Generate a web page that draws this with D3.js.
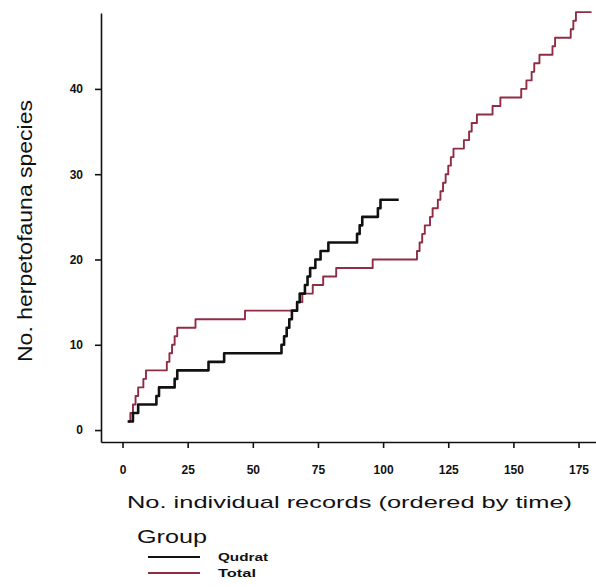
<!DOCTYPE html>
<html>
<head>
<meta charset="utf-8">
<script src="https://cdn.jsdelivr.net/npm/d3@7"></script>
<style>
  html, body { margin: 0; padding: 0; background: #fff; }
  svg { display: block; font-family: 'Liberation Sans', Arial, sans-serif; }
  .axis path, .axis line { stroke: #111; stroke-width: 1.6; }
  .axis text { font-size: 12px; font-weight: bold; fill: #111; }
</style>
</head>
<body>
<div id="chart"></div>
<script>
// record number at which each new species was added, and the running count
const qudratRecords = [2, 4, 6, 13, 14, 20, 21, 33, 39, 61, 62, 63, 64, 65, 67, 68, 70, 71, 72, 74, 76, 79, 90, 91, 92, 98, 99];
const qudratSpecies = [1, 2, 3, 4, 5, 6, 7, 8, 9, 10, 11, 12, 13, 14, 15, 16, 17, 18, 19, 20, 21, 22, 23, 24, 25, 26, 27];
const qudratEnd = 106;

const totalRecords = [2, 3, 4, 5, 6, 8, 9, 17, 18, 19, 20, 21, 28, 47, 67, 69, 73, 77, 82, 96,
  113, 114, 115, 116, 118, 119, 121, 122, 123, 124, 125, 126, 127, 131, 133, 134, 136,
  142, 145, 153, 155, 157, 158, 160, 165, 166, 172, 173, 174];
const totalSpecies = [1, 2, 3, 4, 5, 6, 7, 8, 9, 10, 11, 12, 13, 14, 15, 16, 17, 18, 19, 20,
  21, 22, 23, 24, 25, 26, 27, 28, 29, 30, 31, 32, 33, 34, 35, 36, 37,
  38, 39, 40, 41, 42, 43, 44, 45, 46, 47, 48, 49];
const totalEnd = 180;

const xTicks = [0, 25, 50, 75, 100, 125, 150, 175];
const yTicks = [0, 10, 20, 30, 40];
const groups = ['Qudrat', 'Total'];
const groupColors = ['#111111', '#8f2d44'];

const width = 596, height = 587;

const svg = d3.select('#chart').append('svg')
  .attr('width', width)
  .attr('height', height);

const x = d3.scaleLinear().domain([-8.26, 181.7]).range([101, 596]);
const y = d3.scaleLinear().domain([-1.4, 48.9]).range([442, 13]);

// axes
const xAxis = d3.axisBottom(x).tickValues(xTicks).tickSize(6).tickSizeOuter(0).tickPadding(17);
const yAxis = d3.axisLeft(y).tickValues(yTicks).tickSize(6).tickSizeOuter(0).tickPadding(12);

svg.append('g').attr('class', 'axis x-axis')
  .attr('transform', 'translate(0,442)')
  .call(xAxis);

svg.append('g').attr('class', 'axis y-axis')
  .attr('transform', 'translate(101,0)')
  .call(yAxis);

// step lines
const toSteps = (recs, vals, end) => {
  const pts = recs.map((r, i) => [r, vals[i]]);
  pts.push([end, vals[vals.length - 1]]);
  return pts;
};

const line = d3.line()
  .curve(d3.curveStepAfter)
  .x(d => x(d[0]))
  .y(d => y(d[1]));

const series = [
  {name: 'Total', pts: toSteps(totalRecords, totalSpecies, totalEnd), color: groupColors[1], w: 1.9},
  {name: 'Qudrat', pts: toSteps(qudratRecords, qudratSpecies, qudratEnd), color: groupColors[0], w: 2.6}
];

svg.selectAll('.series')
  .data(series)
  .enter()
  .append('path')
    .attr('class', 'series')
    .attr('d', d => line(d.pts))
    .attr('fill', 'none')
    .attr('stroke', d => d.color)
    .attr('stroke-width', d => d.w)
    .attr('stroke-linejoin', 'round');

// axis titles
svg.append('text')
  .attr('x', 127)
  .attr('y', 508)
  .attr('font-size', 17)
  .attr('textLength', 445)
  .attr('lengthAdjust', 'spacingAndGlyphs')
  .attr('fill', '#111')
  .text('No. individual records (ordered by time)');

svg.append('text')
  .attr('transform', 'translate(32,362) rotate(-90)')
  .attr('font-size', 21)
  .attr('textLength', 262)
  .attr('lengthAdjust', 'spacingAndGlyphs')
  .attr('fill', '#111')
  .text('No. herpetofauna species');

// legend
svg.append('text')
  .attr('x', 137)
  .attr('y', 543)
  .attr('font-size', 18)
  .attr('textLength', 70)
  .attr('lengthAdjust', 'spacingAndGlyphs')
  .attr('fill', '#111')
  .text('Group');

const legend = svg.selectAll('.legend-item')
  .data(groups)
  .enter()
  .append('g')
    .attr('class', 'legend-item')
    .attr('transform', (d, i) => 'translate(0,' + (557 + i * 16) + ')');

legend.append('line')
  .attr('x1', 148)
  .attr('x2', 200)
  .attr('stroke', (d, i) => groupColors[i])
  .attr('stroke-width', 1.8);

legend.append('text')
  .attr('x', 218)
  .attr('y', 4)
  .attr('font-size', 10)
  .attr('font-weight', 'bold')
  .attr('textLength', (d, i) => i === 0 ? 50 : 38)
  .attr('lengthAdjust', 'spacingAndGlyphs')
  .attr('fill', '#111')
  .text(d => d);
</script>
</body>
</html>
